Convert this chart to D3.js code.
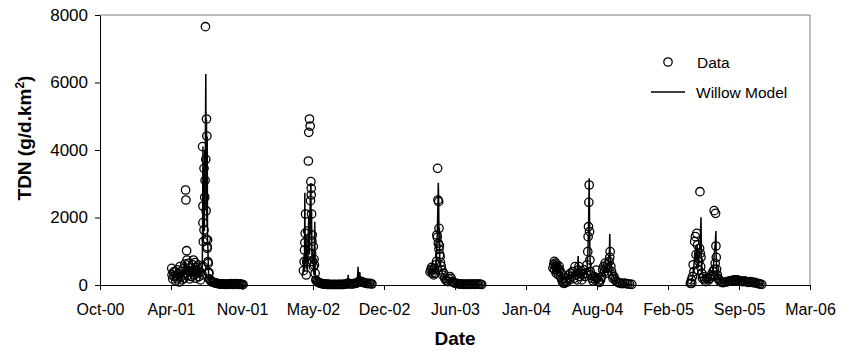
<!DOCTYPE html>
<html>
<head>
<meta charset="utf-8">
<script src="https://cdn.jsdelivr.net/npm/d3@7"></script>
<style>
  body { margin: 0; background: #fff; }
  svg { font-family: "Liberation Sans", Arial, sans-serif; }
  .tick text { font-size: 16px; fill: #000; }
</style>
</head>
<body>
<div id="chart"></div>
<script>
// tick labels on the date axis (Excel axis every 200 days)
const xTicks = ["2000-10-02","2001-04-20","2001-11-06","2002-05-25","2002-12-11",
  "2003-06-29","2004-01-15","2004-08-02","2005-02-18","2005-09-06","2006-03-25"];
const yTicks = [0, 2000, 4000, 6000, 8000];

// measured data, season by season
const data2001 = [["2001-04-22",494],["2001-04-23",300],["2001-04-25",180],["2001-04-27",380],["2001-04-29",250],
  ["2001-05-01",395],["2001-05-03",120],["2001-05-05",260],["2001-05-07",450],["2001-05-09",180],["2001-05-11",320],
  ["2001-05-13",90],["2001-05-15",543],["2001-05-17",230],["2001-05-19",400],["2001-05-21",150],["2001-05-23",300],
  ["2001-05-25",480],["2001-05-27",200],["2001-05-29",620],["2001-05-31",2815],["2001-06-01",2519],["2001-06-02",350],
  ["2001-06-03",1016],["2001-06-04",741],["2001-06-06",280],["2001-06-08",642],["2001-06-10",420],["2001-06-12",180],
  ["2001-06-14",500],["2001-06-16",250],["2001-06-18",380],["2001-06-20",600],["2001-06-22",741],["2001-06-24",300],
  ["2001-06-26",450],["2001-06-27",662],["2001-06-29",200],["2001-07-01",350],["2001-07-03",520],["2001-07-06",593],
  ["2001-07-08",250],["2001-07-10",400],["2001-07-12",150],["2001-07-15",523],["2001-07-17",300],["2001-07-18",4099],
  ["2001-07-19",2341],["2001-07-19",1847],["2001-07-20",1284],["2001-07-20",543],["2001-07-22",3457],["2001-07-22",1630],
  ["2001-07-24",2600],["2001-07-25",3100],["2001-07-26",7654],["2001-07-27",3724],["2001-07-28",1353],["2001-07-28",2200],
  ["2001-07-29",4918],["2001-07-30",4414],["2001-07-31",1087],["2001-07-31",1136],["2001-08-01",1333],["2001-08-02",691],
  ["2001-08-03",642],["2001-08-04",346],["2001-08-05",365],["2001-08-06",180],["2001-08-08",150],["2001-08-11",110],
  ["2001-08-14",90],["2001-08-17",80],["2001-08-20",70],["2001-08-23",60],["2001-08-26",50],["2001-08-29",45],
  ["2001-09-01",40],["2001-09-04",35],["2001-09-07",30],["2001-09-10",30],["2001-09-13",25],["2001-09-16",25],
  ["2001-09-19",20],["2001-09-22",20],["2001-09-25",25],["2001-09-28",30],["2001-10-01",20],["2001-10-04",25],
  ["2001-10-07",40],["2001-10-10",20],["2001-10-13",30],["2001-10-16",20],["2001-10-19",45],["2001-10-22",25],
  ["2001-10-25",20],["2001-10-28",35],["2001-10-31",20],["2001-11-03",25],["2001-11-06",15],["2001-11-09",10]];

const data2002 = [["2002-04-28",425],["2002-04-30",691],["2002-05-01",1037],["2002-05-02",1254],["2002-05-03",1531],
  ["2002-05-04",2104],["2002-05-06",296],["2002-05-07",691],["2002-05-10",1600],["2002-05-12",3674],["2002-05-13",4523],
  ["2002-05-15",4918],["2002-05-17",4710],["2002-05-18",2500],["2002-05-19",3062],["2002-05-20",2864],["2002-05-20",2667],
  ["2002-05-21",2104],["2002-05-21",938],["2002-05-22",1300],["2002-05-23",1481],["2002-05-24",700],["2002-05-26",1136],
  ["2002-05-26",543],["2002-05-28",760],["2002-05-29",593],["2002-05-31",346],["2002-06-02",148],["2002-06-04",120],
  ["2002-06-07",90],["2002-06-10",70],["2002-06-13",60],["2002-06-16",50],["2002-06-19",40],["2002-06-22",35],
  ["2002-06-25",30],["2002-06-28",30],["2002-07-01",25],["2002-07-04",20],["2002-07-07",20],["2002-07-11",20],
  ["2002-07-15",15],["2002-07-19",15],["2002-07-23",20],["2002-07-27",15],["2002-07-31",15],["2002-08-04",20],
  ["2002-08-08",15],["2002-08-12",20],["2002-08-16",15],["2002-08-20",20],["2002-08-24",25],["2002-08-28",30],
  ["2002-09-01",60],["2002-09-05",40],["2002-09-09",30],["2002-09-13",35],["2002-09-17",40],["2002-09-21",50],
  ["2002-09-25",60],["2002-09-29",80],["2002-10-03",120],["2002-10-07",100],["2002-10-11",90],["2002-10-15",70],
  ["2002-10-19",60],["2002-10-23",50],["2002-10-27",40],["2002-10-31",50],["2002-11-04",40],["2002-11-07",30]];

const data2003 = [["2003-04-20",380],["2003-04-22",450],["2003-04-24",520],["2003-04-26",350],["2003-04-28",444],
  ["2003-04-30",300],["2003-05-02",494],["2003-05-04",346],["2003-05-06",600],["2003-05-08",700],["2003-05-09",1481],
  ["2003-05-10",1412],["2003-05-11",3457],["2003-05-12",2519],["2003-05-13",1235],["2003-05-14",2469],["2003-05-15",1679],
  ["2003-05-15",1057],["2003-05-16",1166],["2003-05-17",900],["2003-05-18",840],["2003-05-19",662],["2003-05-21",560],
  ["2003-05-23",444],["2003-05-25",296],["2003-05-28",350],["2003-05-31",198],["2003-06-03",150],["2003-06-06",120],
  ["2003-06-09",100],["2003-06-12",180],["2003-06-15",247],["2003-06-18",200],["2003-06-21",99],["2003-06-24",80],
  ["2003-06-28",60],["2003-07-02",50],["2003-07-06",40],["2003-07-10",35],["2003-07-14",30],["2003-07-18",25],
  ["2003-07-22",20],["2003-07-26",25],["2003-07-30",20],["2003-08-03",20],["2003-08-07",25],["2003-08-11",20],
  ["2003-08-15",30],["2003-08-19",25],["2003-08-23",20],["2003-08-27",30],["2003-08-31",25],["2003-09-04",20],
  ["2003-09-08",25],["2003-09-12",15]];

const data2004 = [["2004-03-31",500],["2004-04-02",600],["2004-04-04",700],["2004-04-05",450],["2004-04-06",650],
  ["2004-04-08",550],["2004-04-09",350],["2004-04-10",620],["2004-04-12",500],["2004-04-14",400],["2004-04-15",300],
  ["2004-04-17",560],["2004-04-19",450],["2004-04-21",250],["2004-04-23",350],["2004-04-25",150],["2004-04-27",100],
  ["2004-04-29",60],["2004-05-02",50],["2004-05-05",120],["2004-05-08",80],["2004-05-11",200],["2004-05-14",300],
  ["2004-05-17",150],["2004-05-20",350],["2004-05-23",250],["2004-05-26",400],["2004-05-29",200],["2004-06-01",543],
  ["2004-06-04",300],["2004-06-07",150],["2004-06-10",444],["2004-06-12",543],["2004-06-14",250],["2004-06-17",350],
  ["2004-06-20",150],["2004-06-23",300],["2004-06-26",450],["2004-06-29",250],["2004-07-02",350],["2004-07-05",600],
  ["2004-07-07",988],["2004-07-08",1432],["2004-07-09",1728],["2004-07-10",2450],["2004-07-11",2963],["2004-07-12",1580],
  ["2004-07-13",741],["2004-07-14",400],["2004-07-16",300],["2004-07-19",200],["2004-07-22",120],["2004-07-25",250],
  ["2004-07-28",150],["2004-07-31",444],["2004-08-03",200],["2004-08-06",120],["2004-08-09",80],["2004-08-12",150],
  ["2004-08-15",250],["2004-08-18",450],["2004-08-21",550],["2004-08-23",400],["2004-08-25",650],["2004-08-27",500],
  ["2004-08-29",350],["2004-08-31",600],["2004-09-02",500],["2004-09-05",691],["2004-09-07",820],["2004-09-08",988],
  ["2004-09-10",550],["2004-09-12",400],["2004-09-14",300],["2004-09-16",200],["2004-09-19",250],["2004-09-22",150],
  ["2004-09-26",100],["2004-09-30",80],["2004-10-04",60],["2004-10-08",50],["2004-10-13",40],["2004-10-18",60],
  ["2004-10-23",40],["2004-10-28",30],["2004-11-02",25],["2004-11-08",20]];

const data2005 = [["2005-04-22",50],["2005-04-25",150],["2005-04-26",50],["2005-04-28",250],["2005-04-30",600],
  ["2005-05-02",395],["2005-05-04",1284],["2005-05-06",1432],["2005-05-08",900],["2005-05-10",1531],["2005-05-12",1185],
  ["2005-05-14",444],["2005-05-16",700],["2005-05-18",1087],["2005-05-19",2765],["2005-05-20",938],["2005-05-21",543],
  ["2005-05-22",820],["2005-05-24",350],["2005-05-26",200],["2005-05-29",247],["2005-06-01",150],["2005-06-04",100],
  ["2005-06-08",200],["2005-06-12",148],["2005-06-16",200],["2005-06-19",300],["2005-06-22",267],["2005-06-25",400],
  ["2005-06-27",296],["2005-06-28",2203],["2005-06-29",464],["2005-07-01",642],["2005-07-02",2123],["2005-07-03",1156],
  ["2005-07-04",820],["2005-07-05",464],["2005-07-07",296],["2005-07-09",200],["2005-07-12",150],["2005-07-15",100],
  ["2005-07-19",80],["2005-07-23",70],["2005-07-27",80],["2005-07-31",90],["2005-08-04",100],["2005-08-08",110],
  ["2005-08-12",120],["2005-08-16",130],["2005-08-20",140],["2005-08-24",150],["2005-08-28",140],["2005-09-01",150],
  ["2005-09-05",130],["2005-09-09",120],["2005-09-13",110],["2005-09-17",100],["2005-09-21",120],["2005-09-25",100],
  ["2005-09-29",90],["2005-10-03",80],["2005-10-07",100],["2005-10-11",90],["2005-10-15",70],["2005-10-19",80],
  ["2005-10-23",60],["2005-10-27",50],["2005-10-31",40],["2005-11-04",30],["2005-11-09",20]];

// willow model output, one line per season
const model2001 = [["2001-04-22",300],["2001-04-25",150],["2001-04-28",400],["2001-05-01",200],["2001-05-04",350],
  ["2001-05-07",500],["2001-05-10",250],["2001-05-13",150],["2001-05-16",450],["2001-05-19",300],["2001-05-22",200],
  ["2001-05-25",550],["2001-05-28",350],["2001-05-31",700],["2001-06-03",400],["2001-06-06",250],["2001-06-09",600],
  ["2001-06-12",350],["2001-06-15",200],["2001-06-18",450],["2001-06-21",650],["2001-06-24",300],["2001-06-27",550],
  ["2001-06-30",250],["2001-07-03",400],["2001-07-06",600],["2001-07-09",300],["2001-07-12",200],["2001-07-15",450],
  ["2001-07-17",350],["2001-07-18",1800],["2001-07-19",4100],["2001-07-20",1300],["2001-07-21",2400],["2001-07-22",3500],
  ["2001-07-23",1600],["2001-07-24",4000],["2001-07-25",2200],["2001-07-26",4600],["2001-07-27",6250],["2001-07-28",3700],
  ["2001-07-29",4900],["2001-07-30",1900],["2001-07-31",4400],["2001-08-01",1300],["2001-08-02",1100],["2001-08-03",600],
  ["2001-08-04",300],["2001-08-06",150],["2001-08-09",100],["2001-08-14",70],["2001-08-20",50],["2001-08-28",40],
  ["2001-09-05",30],["2001-09-15",25],["2001-09-25",20],["2001-10-05",25],["2001-10-15",20],["2001-10-25",20],
  ["2001-11-09",10]];

const model2002 = [["2002-04-26",300],["2002-04-28",500],["2002-04-30",900],["2002-05-01",400],["2002-05-02",2735],
  ["2002-05-03",600],["2002-05-05",1500],["2002-05-07",800],["2002-05-09",400],["2002-05-11",1200],["2002-05-13",2000],
  ["2002-05-15",900],["2002-05-17",2400],["2002-05-19",3013],["2002-05-20",1500],["2002-05-21",2200],["2002-05-22",700],
  ["2002-05-24",1000],["2002-05-26",500],["2002-05-28",300],["2002-05-30",1876],["2002-05-31",400],["2002-06-02",200],
  ["2002-06-05",100],["2002-06-08",80],["2002-06-15",50],["2002-06-22",40],["2002-07-01",30],["2002-07-10",25],
  ["2002-07-20",20],["2002-08-01",20],["2002-08-10",25],["2002-08-20",30],["2002-08-28",40],["2002-08-31",60],
  ["2002-09-01",300],["2002-09-02",50],["2002-09-10",60],["2002-09-18",80],["2002-09-24",100],["2002-09-27",150],
  ["2002-09-29",540],["2002-09-30",120],["2002-10-02",200],["2002-10-04",380],["2002-10-05",150],["2002-10-10",180],
  ["2002-10-15",100],["2002-10-22",60],["2002-10-30",50],["2002-11-07",30]];

const model2003 = [["2003-04-20",300],["2003-04-24",450],["2003-04-28",350],["2003-05-02",500],["2003-05-05",400],
  ["2003-05-08",900],["2003-05-10",1500],["2003-05-12",2400],["2003-05-13",3032],["2003-05-14",2500],["2003-05-15",1200],
  ["2003-05-16",1700],["2003-05-17",800],["2003-05-19",650],["2003-05-21",500],["2003-05-24",350],["2003-05-27",300],
  ["2003-05-31",200],["2003-06-04",150],["2003-06-09",120],["2003-06-14",220],["2003-06-18",180],["2003-06-22",90],
  ["2003-06-28",60],["2003-07-10",40],["2003-07-25",25],["2003-08-10",20],["2003-08-25",25],["2003-09-12",15]];

const model2004 = [["2004-03-31",400],["2004-04-03",650],["2004-04-06",500],["2004-04-09",700],["2004-04-12",450],
  ["2004-04-15",600],["2004-04-18",350],["2004-04-21",450],["2004-04-24",200],["2004-04-27",100],["2004-05-01",50],
  ["2004-05-05",100],["2004-05-09",250],["2004-05-12",150],["2004-05-15",400],["2004-05-18",200],["2004-05-21",300],
  ["2004-05-24",350],["2004-05-28",200],["2004-06-01",450],["2004-06-04",250],["2004-06-07",300],["2004-06-10",860],
  ["2004-06-11",300],["2004-06-14",400],["2004-06-17",250],["2004-06-20",200],["2004-06-23",350],["2004-06-26",300],
  ["2004-06-29",450],["2004-07-02",300],["2004-07-05",500],["2004-07-07",900],["2004-07-09",1600],["2004-07-10",2400],
  ["2004-07-11",3161],["2004-07-12",2000],["2004-07-13",900],["2004-07-15",400],["2004-07-18",250],["2004-07-22",150],
  ["2004-07-26",250],["2004-07-30",350],["2004-08-03",200],["2004-08-07",100],["2004-08-11",150],["2004-08-15",300],
  ["2004-08-19",450],["2004-08-23",350],["2004-08-27",550],["2004-08-31",500],["2004-09-03",700],["2004-09-06",1000],
  ["2004-09-07",1511],["2004-09-08",900],["2004-09-10",600],["2004-09-13",350],["2004-09-17",250],["2004-09-21",150],
  ["2004-09-26",100],["2004-10-01",80],["2004-10-08",50],["2004-10-18",50],["2004-10-28",30],["2004-11-08",20]];

const model2005 = [["2005-04-22",30],["2005-04-26",100],["2005-04-29",300],["2005-05-02",600],["2005-05-05",1000],
  ["2005-05-08",700],["2005-05-11",1200],["2005-05-14",500],["2005-05-17",900],["2005-05-20",1400],["2005-05-22",2005],
  ["2005-05-23",800],["2005-05-25",400],["2005-05-28",250],["2005-06-01",150],["2005-06-05",100],["2005-06-10",150],
  ["2005-06-15",200],["2005-06-20",300],["2005-06-25",400],["2005-06-28",900],["2005-07-01",1200],["2005-07-03",1600],
  ["2005-07-04",700],["2005-07-06",400],["2005-07-09",250],["2005-07-13",150],["2005-07-18",80],["2005-07-25",70],
  ["2005-08-05",100],["2005-08-15",120],["2005-08-25",140],["2005-09-05",130],["2005-09-15",110],["2005-09-25",100],
  ["2005-10-05",90],["2005-10-15",70],["2005-10-25",50],["2005-11-09",20]];

const dataSeasons = [data2001, data2002, data2003, data2004, data2005];
const modelSeasons = [model2001, model2002, model2003, model2004, model2005];

const W = 844, H = 354;
const margin = {top: 15, right: 34, bottom: 69, left: 100};
const parse = d3.timeParse("%Y-%m-%d");

const svg = d3.select("#chart").append("svg")
    .attr("width", W)
    .attr("height", H);

const x = d3.scaleTime()
    .domain([parse(xTicks[0]), parse(xTicks[xTicks.length - 1])])
    .range([margin.left, W - margin.right]);
const y = d3.scaleLinear()
    .domain([0, 8000])
    .range([H - margin.bottom, margin.top]);

// plot frame (top and right)
svg.append("path")
    .attr("d", `M${margin.left},${margin.top}H${W - margin.right}V${H - margin.bottom}`)
    .attr("fill", "none")
    .attr("stroke", "#7f7f7f")
    .attr("stroke-width", 1);

// axes
const xAxis = svg.append("g")
    .attr("transform", `translate(0,${H - margin.bottom})`)
    .call(d3.axisBottom(x)
      .tickValues(xTicks.map(parse))
      .tickFormat(d3.timeFormat("%b-%y"))
      .tickSize(5)
      .tickSizeOuter(0)
      .tickPadding(14));

const yAxis = svg.append("g")
    .attr("transform", `translate(${margin.left},0)`)
    .call(d3.axisLeft(y)
      .tickValues(yTicks)
      .tickFormat(d3.format("d"))
      .tickSize(5)
      .tickSizeOuter(0)
      .tickPadding(7));
yAxis.selectAll(".tick text").style("font-size", "17px");

svg.selectAll(".domain, .tick line").attr("stroke", "#000").attr("stroke-width", 1);

// data circles
const points = dataSeasons.flat();
svg.append("g")
  .selectAll("circle")
  .data(points)
  .join("circle")
    .attr("cx", d => x(parse(d[0])))
    .attr("cy", d => y(d[1]))
    .attr("r", 4.2)
    .attr("fill", "none")
    .attr("stroke", "#000")
    .attr("stroke-width", 1.3);

// model lines
const line = d3.line()
    .x(d => x(parse(d[0])))
    .y(d => y(d[1]));
svg.append("g")
  .selectAll("path")
  .data(modelSeasons)
  .join("path")
    .attr("d", line)
    .attr("fill", "none")
    .attr("stroke", "#000")
    .attr("stroke-width", 1.5);

// axis titles
svg.append("text")
    .attr("x", (margin.left + W - margin.right) / 2)
    .attr("y", 345)
    .attr("text-anchor", "middle")
    .style("font-size", "19px")
    .style("font-weight", "bold")
    .text("Date");

const yTitle = svg.append("text")
    .attr("transform", "translate(31,138) rotate(-90)")
    .attr("text-anchor", "middle")
    .style("font-size", "19px")
    .style("font-weight", "bold");
yTitle.append("tspan").text("TDN (g/d.km");
yTitle.append("tspan").attr("dy", -7).style("font-size", "12px").text("2");
yTitle.append("tspan").attr("dy", 7).text(")");

// legend
const legend = svg.append("g").style("font-size", "15.5px");
legend.append("circle")
    .attr("cx", 668).attr("cy", 62).attr("r", 4.2)
    .attr("fill", "none").attr("stroke", "#000").attr("stroke-width", 1.3);
legend.append("text").attr("x", 697).attr("y", 67.5).text("Data");
legend.append("line")
    .attr("x1", 651).attr("x2", 685).attr("y1", 92).attr("y2", 92)
    .attr("stroke", "#000").attr("stroke-width", 1.5);
legend.append("text").attr("x", 696).attr("y", 97.5).text("Willow Model");
</script>
</body>
</html>
